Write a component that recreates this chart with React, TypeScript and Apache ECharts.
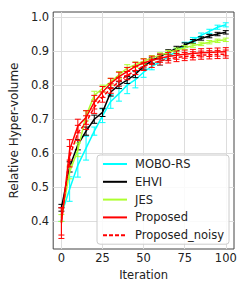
import React, { useEffect, useRef } from "react";
import * as echarts from "echarts";

const iterations = [0, 5, 10, 15, 20, 25, 30, 35, 40, 45, 50, 55, 60, 65, 70, 75, 80, 85, 90, 95, 100];

const moboMean = [0.42, 0.495, 0.565, 0.615, 0.665, 0.71, 0.752, 0.775, 0.8, 0.816, 0.838, 0.855, 0.868, 0.883, 0.9, 0.918, 0.933, 0.946, 0.958, 0.97, 0.977];
const moboErr = [0.02, 0.036, 0.035, 0.035, 0.012, 0.02, 0.02, 0.022, 0.025, 0.024, 0.015, 0.01, 0.01, 0.01, 0.008, 0.008, 0.007, 0.007, 0.006, 0.006, 0.006];

const ehviMean = [0.44, 0.56, 0.625, 0.665, 0.7, 0.72, 0.78, 0.8, 0.815, 0.832, 0.855, 0.872, 0.884, 0.897, 0.908, 0.918, 0.928, 0.937, 0.944, 0.95, 0.955];
const ehviErr = [0.01, 0.015, 0.015, 0.012, 0.012, 0.012, 0.012, 0.01, 0.01, 0.01, 0.008, 0.008, 0.007, 0.007, 0.006, 0.006, 0.006, 0.005, 0.005, 0.005, 0.005];

const jesMean = [0.41, 0.545, 0.61, 0.71, 0.77, 0.79, 0.81, 0.83, 0.85, 0.86, 0.87, 0.88, 0.888, 0.896, 0.903, 0.91, 0.916, 0.921, 0.926, 0.93, 0.933];
const jesErr = [0.01, 0.02, 0.02, 0.015, 0.012, 0.01, 0.01, 0.01, 0.01, 0.008, 0.008, 0.007, 0.007, 0.006, 0.006, 0.006, 0.005, 0.005, 0.005, 0.005, 0.005];

const propMean = [0.395, 0.61, 0.68, 0.705, 0.75, 0.78, 0.805, 0.825, 0.84, 0.855, 0.865, 0.873, 0.879, 0.884, 0.888, 0.891, 0.893, 0.895, 0.896, 0.897, 0.898];
const propErr = [0.045, 0.03, 0.02, 0.02, 0.02, 0.016, 0.015, 0.013, 0.012, 0.012, 0.012, 0.012, 0.012, 0.012, 0.012, 0.012, 0.012, 0.012, 0.012, 0.012, 0.012];

const noisyMean = [0.4, 0.59, 0.66, 0.69, 0.735, 0.765, 0.79, 0.81, 0.828, 0.843, 0.855, 0.864, 0.871, 0.877, 0.881, 0.884, 0.886, 0.888, 0.889, 0.89, 0.891];
const noisyErr = [0.04, 0.03, 0.022, 0.02, 0.018, 0.015, 0.014, 0.013, 0.012, 0.012, 0.012, 0.012, 0.012, 0.012, 0.012, 0.012, 0.012, 0.012, 0.012, 0.012, 0.012];

const xTicks = [0, 25, 50, 75, 100];
const yTicks = [0.4, 0.5, 0.6, 0.7, 0.8, 0.9, 1.0];

const FONT = "DejaVu Sans";
const FS = 11.5;

type S = { name: string; mean: number[]; err: number[]; color: string; dashed?: boolean };

const seriesDefs: S[] = [
  { name: "MOBO-RS", mean: moboMean, err: moboErr, color: "#00ffff" },
  { name: "EHVI", mean: ehviMean, err: ehviErr, color: "#000000" },
  { name: "JES", mean: jesMean, err: jesErr, color: "#adff2f" },
  { name: "Proposed", mean: propMean, err: propErr, color: "#ff0000" },
  { name: "Proposed_noisy", mean: noisyMean, err: noisyErr, color: "#ff0000", dashed: true },
];

export default function App() {
  const ref = useRef<HTMLDivElement>(null);
  useEffect(() => {
    if (!ref.current) return;
    const chart = echarts.init(ref.current, null, { renderer: "svg" });
    const series: any[] = [];
    seriesDefs.forEach((s, idx) => {
      series.push({
        name: s.name,
        type: "line",
        data: iterations.map((x, i) => [x, s.mean[i]]),
        showSymbol: false,
        symbol: "none",
        z: 2 + idx * 2,
        lineStyle: { color: s.color, width: 1.5, type: s.dashed ? [4, 2] : "solid" },
        itemStyle: { color: s.color },
      });
      series.push({
        name: s.name + " err",
        type: "custom",
        z: 3 + idx * 2,
        data: iterations.map((x, i) => [x, s.mean[i] - s.err[i], s.mean[i] + s.err[i]]),
        encode: { x: 0, y: [1, 2] },
        renderItem: (params: any, api: any) => {
          const x = api.value(0);
          const p1 = api.coord([x, api.value(1)]);
          const p2 = api.coord([x, api.value(2)]);
          const hw = 3;
          const st = { stroke: s.color, lineWidth: 1 };
          return {
            type: "group",
            children: [
              { type: "line", shape: { x1: p1[0], y1: p1[1], x2: p2[0], y2: p2[1] }, style: st },
              { type: "line", shape: { x1: p1[0] - hw, y1: p1[1], x2: p1[0] + hw, y2: p1[1] }, style: st },
              { type: "line", shape: { x1: p2[0] - hw, y1: p2[1], x2: p2[0] + hw, y2: p2[1] }, style: st },
            ],
          };
        },
      });
    });
    chart.setOption({
      animation: false,
      backgroundColor: "#ffffff",
      textStyle: { fontFamily: FONT },
      grid: { left: 48, top: 12, right: 15, bottom: 42, show: true, borderColor: "#444444", borderWidth: 1, backgroundColor: "transparent" },
      xAxis: {
        type: "value",
        min: -5,
        max: 105,
        name: "Iteration",
        nameLocation: "middle",
        nameGap: 16,
        nameTextStyle: { fontSize: FS, color: "#222", fontFamily: FONT },
        axisLine: { show: false },
        axisTick: { show: false, customValues: xTicks },
        axisLabel: { customValues: xTicks, fontSize: FS, color: "#222", fontFamily: FONT, margin: 3 },
        splitLine: { show: true, lineStyle: { color: "#dddddd", width: 1 } },
      },
      yAxis: {
        type: "value",
        min: 0.319,
        max: 1.0147,
        name: "Relative Hyper-volume",
        nameLocation: "middle",
        nameGap: 23,
        nameTextStyle: { fontSize: 12, color: "#222", fontFamily: FONT },
        axisLine: { show: false },
        axisTick: { show: false, customValues: yTicks },
        axisLabel: { customValues: yTicks, fontSize: FS, color: "#222", fontFamily: FONT, margin: 4, formatter: (v: number) => v.toFixed(1) },
        splitLine: { show: true, lineStyle: { color: "#dddddd", width: 1 } },
      },
      legend: {
        data: seriesDefs.map((s) => s.name),
        orient: "vertical",
        left: 97,
        top: 155,
        padding: [3, 5, 3, 5],
        itemGap: 5.8,
        itemWidth: 24,
        itemHeight: 11,
        itemStyle: { opacity: 0 },
        backgroundColor: "rgba(255,255,255,0.85)",
        borderColor: "#cccccc",
        borderWidth: 1,
        borderRadius: 3,
        textStyle: { fontSize: FS, color: "#222", fontFamily: FONT, padding: [0, 0, 0, 3] },
      },
      series,
    });
    return () => chart.dispose();
  }, []);
  return <div ref={ref} style={{ position: "fixed", left: 0, top: 0, width: 249, height: 291 }} />;
}
